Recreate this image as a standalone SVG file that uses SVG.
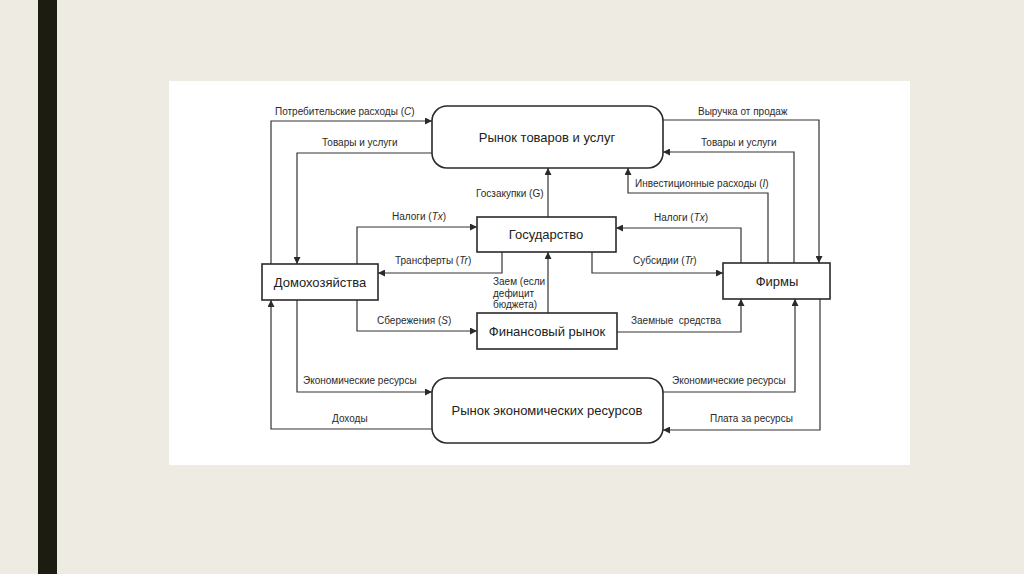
<svg xmlns="http://www.w3.org/2000/svg" width="1024" height="574" viewBox="0 0 1024 574">
<defs>
<marker id="ah" viewBox="0 0 10 10" refX="10" refY="5" markerWidth="8" markerHeight="7" markerUnits="userSpaceOnUse" orient="auto"><path d="M0,0 L10,5 L0,10 z" fill="#2a2a2a"/></marker>
<style>
.box{fill:#fff;stroke:#2a2a2a;stroke-width:1.6}
.ln{fill:none;stroke:#333;stroke-width:1.2}
.ar{marker-end:url(#ah)}
.t{font-family:"Liberation Sans",Arial,sans-serif;font-size:10px;fill:#2a2a2a}
.n{font-family:"Liberation Sans",Arial,sans-serif;font-size:13px;fill:#222;text-anchor:middle}
</style>
</defs>
<rect x="0" y="0" width="1024" height="574" fill="#eeebe3"/>
<rect x="38" y="0" width="19" height="574" fill="#1c1c10"/>
<rect x="169" y="81" width="741" height="384" fill="#fff"/>

<g id="connectors">
<path class="ln ar" d="M271,264 V121 H432"/>
<path class="ln ar" d="M432,153 H297 V264"/>
<path class="ln ar" d="M357,264 V227 H477"/>
<path class="ln ar" d="M502,252 V273 H378"/>
<path class="ln ar" d="M432,429 H271 V300"/>
<path class="ln ar" d="M297,300 V392 H432"/>
<path class="ln ar" d="M357,300 V331 H477"/>
<path class="ln ar" d="M548,217 V168"/>
<path class="ln ar" d="M768,263 V193 H628 V168"/>
<path class="ln ar" d="M794,263 V152 H663"/>
<path class="ln ar" d="M663,120 H819 V263"/>
<path class="ln ar" d="M741,263 V228 H616"/>
<path class="ln ar" d="M592,252 V273 H723"/>
<path class="ln ar" d="M548,313 V252"/>
<path class="ln ar" d="M617,332 H741 V299"/>
<path class="ln ar" d="M663,392 H795 V299"/>
<path class="ln ar" d="M820,299 V430 H663"/>
</g>

<g id="labels">
<text class="t" x="275" y="115">Потребительские расходы (<tspan font-style="italic">C</tspan>)</text>
<text class="t" x="322" y="146">Товары и услуги</text>
<text class="t" x="392" y="220">Налоги (<tspan font-style="italic">Tx</tspan>)</text>
<text class="t" x="395" y="264">Трансферты (<tspan font-style="italic">Tr</tspan>)</text>
<text class="t" x="377" y="324">Сбережения (<tspan font-style="italic">S</tspan>)</text>
<text class="t" x="303" y="384">Экономические ресурсы</text>
<text class="t" x="332" y="422">Доходы</text>
<text class="t" x="476" y="197">Госзакупки (G)</text>
<text class="t" x="493" y="285">Заем (если</text>
<text class="t" x="493" y="297">дефицит</text>
<text class="t" x="493" y="308">бюджета)</text>
<text class="t" x="698" y="115">Выручка от продаж</text>
<text class="t" x="701" y="146">Товары и услуги</text>
<text class="t" x="635" y="187">Инвестиционные расходы (<tspan font-style="italic">I</tspan>)</text>
<text class="t" x="654" y="221">Налоги (<tspan font-style="italic">Tx</tspan>)</text>
<text class="t" x="633" y="264">Субсидии (<tspan font-style="italic">Tr</tspan>)</text>
<text class="t" x="631" y="324" xml:space="preserve">Заемные  средства</text>
<text class="t" x="672" y="384">Экономические ресурсы</text>
<text class="t" x="710" y="422">Плата за ресурсы</text>
</g>

<g id="goods-market">
<rect class="box" x="432" y="106" width="231" height="62" rx="15"/>
<text class="n" x="547" y="142">Рынок товаров и услуг</text>
</g>
<g id="government">
<rect class="box" x="477" y="217" width="139" height="35"/>
<text class="n" x="546" y="239">Государство</text>
</g>
<g id="households">
<rect class="box" x="262" y="264" width="116" height="36"/>
<text class="n" x="320" y="287">Домохозяйства</text>
</g>
<g id="firms">
<rect class="box" x="723" y="263" width="107" height="36"/>
<text class="n" x="777" y="286">Фирмы</text>
</g>
<g id="financial-market">
<rect class="box" x="477" y="313" width="140" height="36"/>
<text class="n" x="547" y="336">Финансовый рынок</text>
</g>
<g id="resource-market">
<rect class="box" x="432" y="378" width="231" height="65" rx="15"/>
<text class="n" x="547" y="415">Рынок экономических ресурсов</text>
</g>
</svg>
